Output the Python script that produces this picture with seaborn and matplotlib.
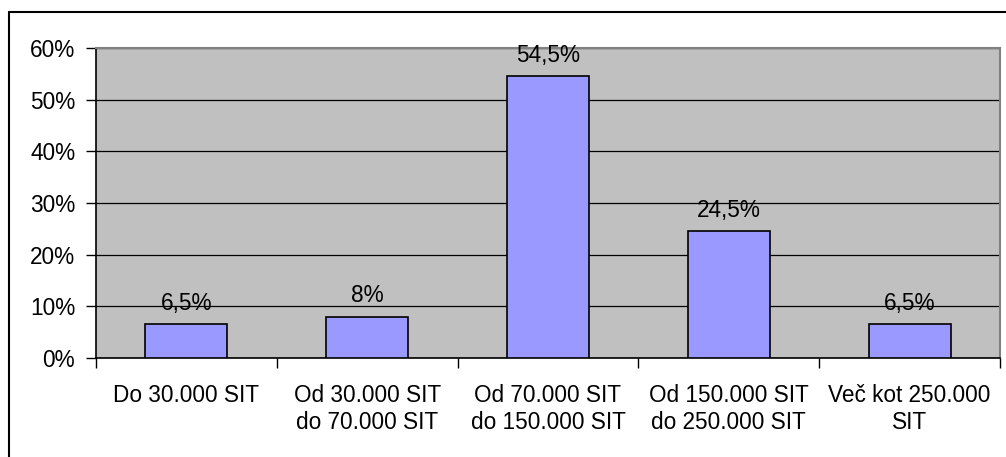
import matplotlib
matplotlib.use("Agg")
import matplotlib.pyplot as plt
import seaborn as sns
import pandas as pd
from matplotlib.ticker import FuncFormatter, FixedLocator
from matplotlib.lines import Line2D

categories = [
    "Do 30.000 SIT",
    "Od 30.000 SIT\ndo 70.000 SIT",
    "Od 70.000 SIT\ndo 150.000 SIT",
    "Od 150.000 SIT\ndo 250.000 SIT",
    "Več kot 250.000\nSIT",
]
shares = [6.5, 8.0, 54.5, 24.5, 6.5]
value_labels = ["6,5%", "8%", "54,5%", "24,5%", "6,5%"]
y_ticks = [0, 10, 20, 30, 40, 50, 60]

sns.set_theme(style="white")
plt.rcParams["font.family"] = ["Liberation Sans", "DejaVu Sans"]

FS = 16.3

df = pd.DataFrame({"category": categories, "share": shares})

W, H = 1006, 457
fig = plt.figure(figsize=(W / 100, H / 100), dpi=100)
fig.patch.set_facecolor("white")
ax = fig.add_axes([96 / W, 1 - 358 / H, (1000 - 96) / W, (358 - 48) / H])
ax.set_facecolor("#C0C0C0")

sns.barplot(data=df, x="category", y="share", color="#9999FF", saturation=1,
            edgecolor="black", linewidth=1.2, width=1 / 2.2, ax=ax, zorder=3)

ax.set_xlim(-0.5, len(categories) - 0.5)
ax.set_ylim(0, 60)
ax.set_yticks(y_ticks)
ax.yaxis.set_major_formatter(FuncFormatter(lambda v, p: f"{int(v)}%"))
ax.grid(axis="y", color="black", linewidth=0.9, zorder=1)
ax.set_axisbelow(True)
ax.set_xlabel("")
ax.set_ylabel("")

# category separators on the x axis
ax.xaxis.set_minor_locator(FixedLocator([i - 0.5 for i in range(len(categories) + 1)]))
ax.tick_params(axis="x", which="major", length=0, pad=19, labelsize=FS, colors="black")
ax.tick_params(axis="x", which="minor", length=7, width=1, color="black", direction="out", bottom=True)
ax.tick_params(axis="y", length=7, width=1, color="black", direction="out", left=True,
               pad=8, labelsize=FS, labelcolor="black")
for lab in ax.get_xticklabels():
    lab.set_linespacing(1.18)

for side in ("top", "right"):
    ax.spines[side].set_color("#808080")
    ax.spines[side].set_linewidth(1.5)
for side in ("left", "bottom"):
    ax.spines[side].set_color("black")
    ax.spines[side].set_linewidth(1.2)

for container in ax.containers:
    ax.bar_label(container, labels=value_labels, padding=7, fontsize=FS, color="black")

# chart frame
fig.add_artist(Line2D([9 / W, 1], [1 - 12 / H, 1 - 12 / H], transform=fig.transFigure,
                      color="black", linewidth=1.5))
fig.add_artist(Line2D([9 / W, 9 / W], [0, 1 - 12 / H], transform=fig.transFigure,
                      color="black", linewidth=1.5))

fig.savefig("out.png", dpi=100)
